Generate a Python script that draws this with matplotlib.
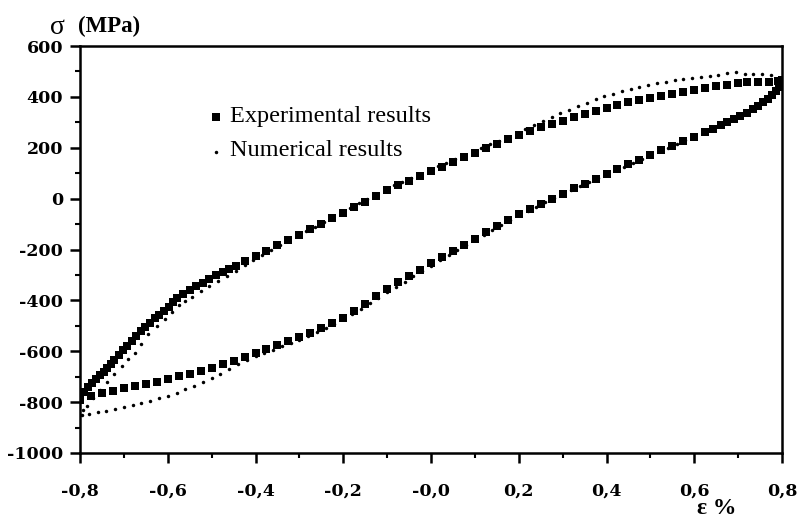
import matplotlib.pyplot as plt
from matplotlib.ticker import MultipleLocator, FixedLocator

# experimental loop: upper (loading) branch, from -0.8 up to +0.8
expUpX = [-0.800, -0.792, -0.782, -0.772, -0.763, -0.755, -0.746, -0.738, -0.730, -0.722,
          -0.712, -0.702, -0.692, -0.682, -0.672, -0.662, -0.652, -0.641, -0.630, -0.619,
          -0.608, -0.598, -0.588, -0.578, -0.565, -0.550, -0.535, -0.520, -0.505, -0.490,
          -0.475, -0.460, -0.445, -0.425, -0.400, -0.375, -0.350, -0.325, -0.300, -0.275,
          -0.250, -0.225, -0.200, -0.175, -0.150, -0.125, -0.100, -0.075, -0.050, -0.025,
          0.000, 0.025, 0.050, 0.075, 0.100, 0.125, 0.150, 0.175, 0.200, 0.225,
          0.250, 0.275, 0.300, 0.325, 0.350, 0.375, 0.400, 0.425, 0.450, 0.475,
          0.500, 0.525, 0.550, 0.575, 0.600, 0.625, 0.650, 0.675, 0.700, 0.720,
          0.745, 0.770, 0.790, 0.800]
expUpY = [-790, -760, -742, -724, -710, -695, -680, -665, -650, -635,
          -615, -596, -578, -560, -540, -521, -503, -487, -471, -457,
          -441, -425, -408, -392, -376, -360, -345, -330, -315, -302,
          -289, -276, -263, -245, -224, -204, -184, -163, -142, -120,
          -98, -77, -56, -34, -12, 10, 32, 52, 71, 89,
          107, 125, 144, 162, 180, 198, 216, 234, 251, 266,
          280, 293, 306, 319, 332, 345, 357, 368, 378, 387,
          396, 405, 413, 420, 427, 434, 441, 447, 453, 458,
          459, 459, 461, 466]

# experimental loop: lower (unloading) branch, from +0.8 down to -0.8
expDownX = [0.800, 0.794, 0.786, 0.778, 0.768, 0.757, 0.745, 0.733, 0.720, 0.705,
            0.690, 0.675, 0.660, 0.643, 0.625, 0.600, 0.575, 0.550, 0.525, 0.500,
            0.475, 0.450, 0.425, 0.400, 0.375, 0.350, 0.325, 0.300, 0.275, 0.250,
            0.225, 0.200, 0.175, 0.150, 0.125, 0.100, 0.075, 0.050, 0.025, 0.000,
            -0.025, -0.050, -0.075, -0.100, -0.125, -0.150, -0.175, -0.200, -0.225, -0.250,
            -0.275, -0.300, -0.325, -0.350, -0.375, -0.400, -0.425, -0.450, -0.475, -0.500,
            -0.525, -0.550, -0.575, -0.600, -0.625, -0.650, -0.675, -0.700, -0.725, -0.750,
            -0.775, -0.800]
expDownY = [462, 440, 422, 408, 393, 380, 366, 352, 338, 326,
            314, 302, 290, 275, 262, 244, 226, 208, 190, 172,
            153, 135, 116, 97, 78, 59, 40, 20, 0, -20,
            -40, -61, -84, -108, -132, -157, -182, -206, -230, -255,
            -279, -303, -329, -356, -384, -413, -441, -468, -490, -510,
            -528, -545, -561, -577, -593, -608, -624, -638, -651, -664,
            -676, -688, -699, -710, -719, -728, -737, -746, -755, -764,
            -774, -786]

# numerical loop: upper branch
numUpX = [-0.800, -0.793, -0.785, -0.770, -0.754, -0.739, -0.722, -0.705, -0.690, -0.675,
          -0.660, -0.645, -0.625, -0.606, -0.590, -0.575, -0.560, -0.545, -0.525, -0.505,
          -0.485, -0.465, -0.445, -0.425, -0.405, -0.385, -0.365, -0.345, -0.325, -0.305,
          -0.285, -0.265, -0.245, -0.225, -0.205, -0.185, -0.165, -0.145, -0.125, -0.105,
          -0.085, -0.065, -0.045, -0.025, -0.005, 0.015, 0.035, 0.055, 0.075, 0.095,
          0.115, 0.135, 0.155, 0.175, 0.195, 0.215, 0.235, 0.255, 0.275, 0.295,
          0.315, 0.335, 0.355, 0.375, 0.395, 0.415, 0.435, 0.455, 0.475, 0.495,
          0.515, 0.535, 0.555, 0.575, 0.595, 0.615, 0.635, 0.655, 0.675, 0.695,
          0.715, 0.735, 0.755, 0.775, 0.795]
numUpY = [-852, -832, -815, -785, -752, -719, -688, -658, -632, -607,
          -570, -532, -502, -474, -447, -420, -402, -385, -364, -344,
          -325, -305, -284, -262, -240, -220, -201, -183, -165, -147,
          -128, -110, -92, -74, -55, -36, -18, 0, 18, 36,
          52, 67, 82, 97, 112, 127, 142, 157, 171, 185,
          199, 213, 227, 240, 253, 273, 289, 305, 322, 336,
          350, 364, 377, 390, 402, 413, 423, 432, 440, 447,
          454, 460, 466, 471, 476, 480, 484, 488, 492, 499,
          490, 489, 490, 487, 476]

# numerical loop: lower branch
numDownX = [0.800, 0.796, 0.788, 0.778, 0.765, 0.750, 0.735, 0.720, 0.700, 0.680,
            0.660, 0.640, 0.620, 0.600, 0.580, 0.560, 0.540, 0.520, 0.500, 0.480,
            0.460, 0.440, 0.420, 0.400, 0.380, 0.360, 0.340, 0.320, 0.300, 0.280,
            0.260, 0.240, 0.220, 0.200, 0.180, 0.160, 0.140, 0.120, 0.100, 0.080,
            0.060, 0.040, 0.020, 0.000, -0.020, -0.040, -0.060, -0.080, -0.100, -0.120,
            -0.140, -0.160, -0.180, -0.200, -0.220, -0.240, -0.260, -0.280, -0.300, -0.320,
            -0.340, -0.360, -0.380, -0.400, -0.420, -0.440, -0.460, -0.480, -0.500, -0.520,
            -0.540, -0.560, -0.580, -0.600, -0.620, -0.640, -0.660, -0.680, -0.700, -0.720,
            -0.740, -0.760, -0.780, -0.795]
numDownY = [468, 445, 425, 408, 390, 373, 357, 342, 325, 309,
            293, 277, 261, 246, 231, 216, 201, 186, 171, 156,
            141, 126, 111, 96, 81, 65, 49, 33, 17, 1,
            -15, -32, -49, -66, -85, -104, -123, -143, -163, -183,
            -203, -223, -243, -263, -284, -305, -326, -347, -368, -390,
            -412, -434, -455, -475, -493, -510, -526, -541, -555, -568,
            -581, -594, -607, -620, -636, -652, -670, -688, -705, -722,
            -736, -750, -763, -774, -785, -795, -804, -812, -820, -827,
            -833, -839, -846, -852]

xTicks = [-0.8, -0.6, -0.4, -0.2, 0.0, 0.2, 0.4, 0.6, 0.8]
xTickLabels = ['-0,8', '-0,6', '-0,4', '-0,2', '-0,0', '0,2', '0,4', '0,6', '0,8']
yTicks = [600, 400, 200, 0, -200, -400, -600, -800, -1000]

plt.rcParams['font.family'] = ['Liberation Serif', 'DejaVu Serif']

fig = plt.figure(figsize=(7.97, 5.26), dpi=100)
ax = fig.add_axes([0.1004, 0.1388, 0.8808, 0.7737])

sqSize = 5.5
dotSize = 2.5
ax.plot(numUpX, numUpY, 'o', color='black', markersize=dotSize, markeredgewidth=0)
ax.plot(numDownX, numDownY, 'o', color='black', markersize=dotSize, markeredgewidth=0)
ax.plot(expUpX, expUpY, 's', color='black', markersize=sqSize, markeredgewidth=0)
ax.plot(expDownX, expDownY, 's', color='black', markersize=sqSize, markeredgewidth=0)

ax.set_xlim(-0.8, 0.8)
ax.set_ylim(-1000, 600)

ax.xaxis.set_major_locator(FixedLocator(xTicks))
ax.set_xticklabels(xTickLabels)
ax.xaxis.set_minor_locator(MultipleLocator(0.1))
ax.yaxis.set_major_locator(FixedLocator(yTicks))
ax.set_yticklabels([str(v) for v in yTicks])
ax.yaxis.set_minor_locator(MultipleLocator(100))

ax.tick_params(which='major', direction='out', length=7, width=1.8, pad=5)
ax.tick_params(axis='x', which='major', pad=14)
ax.tick_params(which='minor', direction='out', length=3.5, width=1.5)
for lbl in ax.get_xticklabels() + ax.get_yticklabels():
    lbl.set_family('DejaVu Serif')
    lbl.set_fontweight('bold')
    lbl.set_fontsize(12.5)
for side in ['left', 'right', 'top', 'bottom']:
    ax.spines[side].set_linewidth(1.8)

# legend drawn by hand like the scanned figure
ax.plot([-0.49], [320], 's', color='black', markersize=sqSize, markeredgewidth=0)
ax.plot([-0.49], [185], 'o', color='black', markersize=dotSize, markeredgewidth=0)
ax.text(-0.458, 323, 'Experimental results', fontsize=17.5, va='center', ha='left')
ax.text(-0.458, 190, 'Numerical results', fontsize=17.5, va='center', ha='left')

fig.text(50/797, 1-27/526, 'σ', fontsize=20, va='center', ha='left')
fig.text(78/797, 1-26/526, '(MPa)', fontsize=16.5, va='center', ha='left', fontweight='bold')
fig.text(697/797, 1-509/526, 'ε %', fontsize=17, va='center', ha='left', fontweight='bold')

plt.savefig('out.png', dpi=100)
